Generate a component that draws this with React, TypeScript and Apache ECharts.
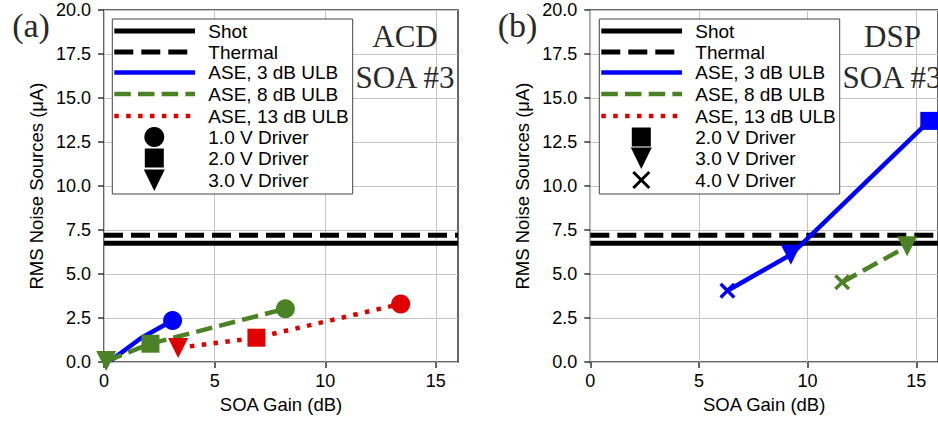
import React, { useEffect, useRef } from 'react';
import * as echarts from 'echarts';

// ---------- data ----------
const xTickValues = [0, 5, 10, 15];
const xMax = 16;
const yMax = 20;
const yInterval = 2.5;
const shotLevel = 6.75;
const thermalLevel = 7.2;

// panel (a) ACD, SOA #3
const aBlueX = [0.3, 1.68, 3.1];
const aBlueY = [0.08, 1.36, 2.36];
const aBlueMarks = ['none', 'none', 'circle'];
const aGreenX = [0.1, 2.1, 8.2];
const aGreenY = [0.05, 1.04, 3.03];
const aGreenMarks = ['triangle', 'rect', 'circle'];
const aRedX = [3.35, 6.89, 13.41];
const aRedY = [0.8, 1.38, 3.3];
const aRedMarks = ['triangle', 'rect', 'circle'];

// panel (b) DSP, SOA #3
const bBlueX = [6.31, 9.23, 15.6];
const bBlueY = [4.05, 6.1, 13.7];
const bBlueMarks = ['x', 'triangle', 'rect'];
const bGreenX = [11.59, 14.58];
const bGreenY = [4.53, 6.57];
const bGreenMarks = ['x', 'triangle'];

const lineLabels = ['Shot', 'Thermal', 'ASE, 3 dB ULB', 'ASE, 8 dB ULB', 'ASE, 13 dB ULB'];
const markerLabelsA = ['1.0 V Driver', '2.0 V Driver', '3.0 V Driver'];
const markerLabelsB = ['2.0 V Driver', '3.0 V Driver', '4.0 V Driver'];
const legendMarksA = ['circle', 'rect', 'triangle'];
const legendMarksB = ['rect', 'triangle', 'x'];

// ---------- styles ----------
const BLUE = '#0000ff';
const GREEN = '#4b8226';
const RED = '#e00000';
const BLACK = '#000000';
const SANS = '"Liberation Sans", Arial, sans-serif';
const SERIF = '"Liberation Serif", "Times New Roman", serif';
const X_PATH = 'path://M0,1.5L1.5,0L5,3.5L8.5,0L10,1.5L6.5,5L10,8.5L8.5,10L5,6.5L1.5,10L0,8.5L3.5,5Z';

const DASH_BLACK = [19, 8];
const DASH_GREEN = [16.5, 7.2];
const DOT_RED = [4.5, 7.4];

function pointItems(xs: number[], ys: number[], marks: string[]) {
  return xs.map((x, i) => {
    const m = marks[i];
    const item: any = { value: [x, ys[i]] };
    if (m === 'none') item.symbol = 'none';
    else if (m === 'circle') { item.symbol = 'circle'; item.symbolSize = 19; }
    else if (m === 'rect') { item.symbol = 'rect'; item.symbolSize = 18; }
    else if (m === 'triangle') { item.symbol = 'triangle'; item.symbolSize = 20; item.symbolRotate = 180; }
    else if (m === 'x') { item.symbol = X_PATH; item.symbolSize = 16; }
    return item;
  });
}

function lineSeries(name: string, idx: number, data: any[], color: string, width: number, dash: any) {
  return {
    name,
    type: 'line',
    xAxisIndex: idx,
    yAxisIndex: idx,
    data,
    symbol: 'none',
    showSymbol: true,
    clip: true,
    lineStyle: { color, width, type: dash, cap: 'butt' },
    itemStyle: { color },
    emphasis: { disabled: true },
  };
}

function hLine(name: string, idx: number, level: number, dash: any) {
  return lineSeries(name, idx, [[0, level], [xMax, level]], BLACK, 5, dash);
}

const legendRowY = [31, 52, 72.5, 94, 116, 137, 158, 180];

function legendElements(ox: number, markerLabels: string[], marks: string[]) {
  const els: any[] = [];
  els.push({
    type: 'rect', z: 100,
    shape: { x: 112.3 + ox, y: 19, width: 240.4, height: 175 },
    style: { fill: '#ffffff', stroke: '#444444', lineWidth: 1 },
  });
  const lineStyles = [
    { stroke: BLACK, lineWidth: 5 },
    { stroke: BLACK, lineWidth: 5, lineDash: DASH_BLACK },
    { stroke: BLUE, lineWidth: 4.5 },
    { stroke: GREEN, lineWidth: 4.5, lineDash: DASH_GREEN },
    { stroke: RED, lineWidth: 4.5, lineDash: DOT_RED },
  ];
  lineLabels.forEach((lab, i) => {
    const y = legendRowY[i];
    els.push({
      type: 'line', z: 101,
      shape: { x1: 114.3 + ox, y1: y, x2: 195 + ox, y2: y },
      style: { ...lineStyles[i], lineCap: 'butt' },
    });
    els.push({
      type: 'text', z: 101, x: 208.3 + ox, y,
      style: { text: lab, fill: '#000', fontSize: 19, fontFamily: SANS, align: 'left', verticalAlign: 'middle' },
    });
  });
  markerLabels.forEach((lab, j) => {
    const y = legendRowY[5 + j];
    const cx = 154.3 + ox;
    const m = marks[j];
    if (m === 'circle') {
      els.push({ type: 'circle', z: 101, shape: { cx, cy: y, r: 10 }, style: { fill: BLACK } });
    } else if (m === 'rect') {
      els.push({ type: 'rect', z: 101, shape: { x: cx - 9.5, y: y - 9.5, width: 19, height: 19 }, style: { fill: BLACK } });
    } else if (m === 'triangle') {
      els.push({
        type: 'polygon', z: 101,
        shape: { points: [[cx - 10.5, y - 10.5], [cx + 10.5, y - 10.5], [cx, y + 11]] },
        style: { fill: BLACK },
      });
    } else if (m === 'x') {
      els.push({ type: 'line', z: 101, shape: { x1: cx - 8, y1: y - 8, x2: cx + 8, y2: y + 8 }, style: { stroke: BLACK, lineWidth: 3 } });
      els.push({ type: 'line', z: 101, shape: { x1: cx - 8, y1: y + 8, x2: cx + 8, y2: y - 8 }, style: { stroke: BLACK, lineWidth: 3 } });
    }
    els.push({
      type: 'text', z: 101, x: 208.3 + ox, y,
      style: { text: lab, fill: '#000', fontSize: 19, fontFamily: SANS, align: 'left', verticalAlign: 'middle' },
    });
  });
  return els;
}

function serifText(text: string, x: number, y: number, size: number) {
  return {
    type: 'text', z: 90, x, y,
    style: { text, fill: '#2a2a2a', fontSize: size, fontFamily: SERIF, align: 'center', verticalAlign: 'middle' },
  };
}

function makeXAxis(idx: number) {
  return {
    type: 'value',
    gridIndex: idx,
    min: 0,
    max: xMax,
    interval: 5,
    name: 'SOA Gain (dB)',
    nameLocation: 'middle',
    nameGap: 33,
    nameTextStyle: { fontSize: 18.5, fontFamily: SANS, color: '#000' },
    axisLine: { show: false },
    axisTick: { show: true, inside: false, length: 6, customValues: xTickValues, lineStyle: { color: '#333', width: 1.5 } },
    axisLabel: {
      show: true, margin: 10, fontSize: 18, fontFamily: SANS, color: '#000',
      customValues: xTickValues,
      formatter: (v: number) => (v % 5 === 0 ? String(v) : ''),
    },
    splitLine: { show: true, lineStyle: { color: '#c4c4c4', width: 1 } },
  };
}

function makeYAxis(idx: number) {
  return {
    type: 'value',
    gridIndex: idx,
    min: 0,
    max: yMax,
    interval: yInterval,
    name: 'RMS Noise Sources (μA)',
    nameLocation: 'middle',
    nameGap: 58,
    nameTextStyle: { fontSize: 18.5, fontFamily: SANS, color: '#000' },
    axisLine: { show: false },
    axisTick: { show: true, inside: false, length: 6, lineStyle: { color: '#333', width: 1.5 } },
    axisLabel: {
      show: true, margin: 13, fontSize: 18, fontFamily: SANS, color: '#000',
      formatter: (v: number) => v.toFixed(1),
    },
    splitLine: { show: true, lineStyle: { color: '#c4c4c4', width: 1 } },
  };
}

export default function App() {
  const ref = useRef<HTMLDivElement>(null);
  useEffect(() => {
    document.body.style.margin = '0';
    if (!ref.current) return;
    const chart = echarts.init(ref.current, undefined, { renderer: 'svg' });
    const option: any = {
      animation: false,
      backgroundColor: '#ffffff',
      grid: [
        { left: 104, top: 10, width: 354, height: 352, show: true, borderColor: '#333', borderWidth: 1.5, backgroundColor: 'transparent' },
        { left: 590.3, top: 10, width: 354, height: 352, show: true, borderColor: '#333', borderWidth: 1.5, backgroundColor: 'transparent' },
      ],
      xAxis: [makeXAxis(0), makeXAxis(1)],
      yAxis: [makeYAxis(0), makeYAxis(1)],
      series: [
        hLine('Shot', 0, shotLevel, 'solid'),
        hLine('Thermal', 0, thermalLevel, DASH_BLACK),
        lineSeries('ASE, 3 dB ULB', 0, pointItems(aBlueX, aBlueY, aBlueMarks), BLUE, 4.5, 'solid'),
        lineSeries('ASE, 8 dB ULB', 0, pointItems(aGreenX, aGreenY, aGreenMarks), GREEN, 4.5, DASH_GREEN),
        lineSeries('ASE, 13 dB ULB', 0, pointItems(aRedX, aRedY, aRedMarks), RED, 4.5, DOT_RED),
        hLine('Shot', 1, shotLevel, 'solid'),
        hLine('Thermal', 1, thermalLevel, DASH_BLACK),
        lineSeries('ASE, 3 dB ULB', 1, pointItems(bBlueX, bBlueY, bBlueMarks), BLUE, 4.5, 'solid'),
        lineSeries('ASE, 8 dB ULB', 1, pointItems(bGreenX, bGreenY, bGreenMarks), GREEN, 4.5, DASH_GREEN),
      ],
      graphic: [
        serifText('(a)', 31, 25, 34),
        serifText('ACD', 405, 36, 31),
        serifText('SOA #3', 405, 77, 31),
        serifText('(b)', 517.5, 25, 34),
        serifText('DSP', 892.5, 36, 31),
        serifText('SOA #3', 892, 77, 31),
        ...legendElements(0, markerLabelsA, legendMarksA),
        ...legendElements(487, markerLabelsB, legendMarksB),
      ],
    };
    chart.setOption(option);
    return () => chart.dispose();
  }, []);
  return (
    <div
      ref={ref}
      style={{ position: 'absolute', left: 0, top: 0, width: 938, height: 423, overflow: 'hidden' }}
    />
  );
}
